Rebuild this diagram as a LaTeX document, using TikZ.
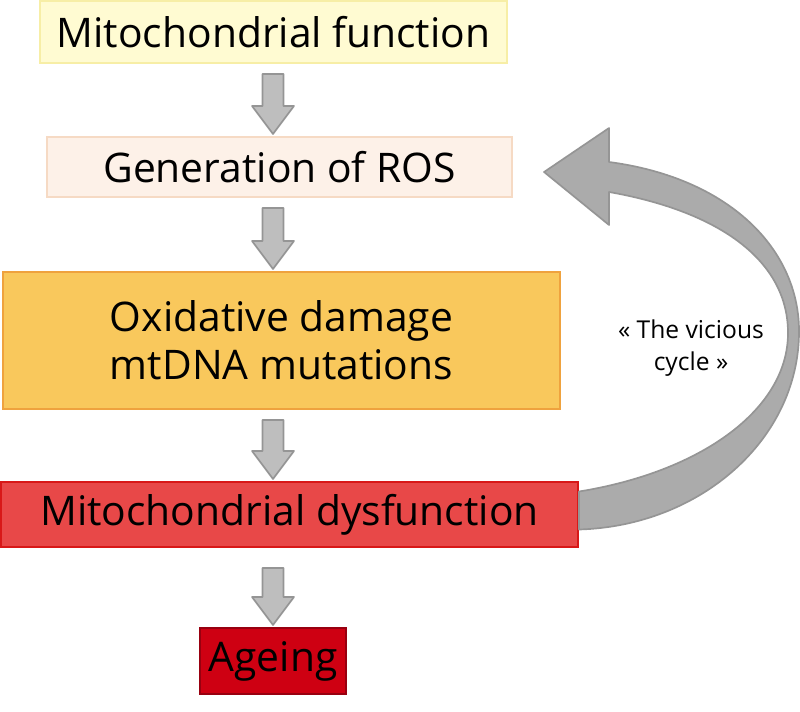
\documentclass[tikz,border=0pt]{standalone}
\usepackage{fontspec}
\setmainfont{Open Sans}
\usepackage{xcolor}
\usetikzlibrary{positioning}
\usetikzlibrary{calc}
\definecolor{fnfill}{HTML}{FFFBD2}
\definecolor{fnedge}{HTML}{F7EEA6}
\definecolor{rosfill}{HTML}{FDF1E8}
\definecolor{rosedge}{HTML}{F6DAC4}
\definecolor{oxfill}{HTML}{F9C85C}
\definecolor{oxedge}{HTML}{EFA23E}
\definecolor{dysfill}{HTML}{E84848}
\definecolor{dysedge}{HTML}{D81818}
\definecolor{agefill}{HTML}{CE0012}
\definecolor{ageedge}{HTML}{980010}
\definecolor{flowgray}{HTML}{BEBEBE}
\definecolor{flowedge}{HTML}{959595}
\def\pixel{0.025cm}
% block arrow straight down between two boxes
\newcommand\flowarrow[3]{%
  \path (axis |- #1.south) coordinate (arrtop) (axis |- #2.north) coordinate (arrbot);
  \filldraw[flowgray, draw=flowedge, line width=1.2pt, line join=round]
    ($(arrtop)+(-10.5,#3)$) -- ($(arrtop)+(10.5,#3)$) -- ($(arrbot)+(10.5,-30)$) --
    ($(arrbot)+(21,-30)$) -- ($(arrbot)+(0,-2)$) -- ($(arrbot)+(-21,-30)$) --
    ($(arrbot)+(-10.5,-30)$) -- cycle;
}

\begin{document}
\begin{tikzpicture}[x=\pixel, y=-\pixel,
  box/.style={draw, line width=1.5pt, inner sep=0pt, align=center,
    font=\fontsize{29}{34}\selectfont},
  cycletext/.style={align=center, font=\fontsize{17.5}{23}\selectfont}]
\useasboundingbox (0,0) rectangle (800,711);
\coordinate (axis) at (273,0);

\node[box, fill=fnfill, draw=fnedge, minimum width=467*\pixel, minimum height=62*\pixel] (fn) at (273.5,32) {Mitochondrial function};
\node[box, fill=rosfill, draw=rosedge, minimum width=465*\pixel, minimum height=60*\pixel] (ros) at (279.5,167) {Generation of ROS};
\node[box, fill=oxfill, draw=oxedge, minimum width=557*\pixel, minimum height=137*\pixel] (ox) at (281.5,340.5) {Oxidative damage\\mtDNA mutations};
\node[box, fill=dysfill, draw=dysedge, minimum width=577*\pixel, minimum height=65*\pixel] (dys) at (289.5,514.5) {Mitochondrial dysfunction};
\node[box, fill=agefill, draw=ageedge, minimum width=146*\pixel, minimum height=66*\pixel] (age) at (273,661) {Ageing};

\flowarrow{fn}{ros}{10}
\flowarrow{ros}{ox}{10}
\flowarrow{ox}{dys}{10}
\flowarrow{dys}{age}{20}

% the curved feedback ribbon
\coordinate (loopin) at (788,333);
\coordinate (loopout) at (799,333);
\filldraw[flowgray!90!black, draw=flowedge, line width=1.2pt, line join=round]
  ($(dys.east)+(0,-23)$) .. controls (700,472) and (788,410) .. (loopin)
  .. controls (788,262) and (722,212) .. ($(ros.east)+(96,25)$)
  -- ($(ros.east)+(96,58)$) -- ($(ros.east)+(31,5)$) -- ($(ros.east)+(96,-39)$)
  -- ($(ros.east)+(96,-5)$) .. controls (730,178) and (800,250) .. (loopout)
  .. controls (798,440) and (700,526) .. ($(dys.east)+(0,15)$) -- cycle;

\node[cycletext] (vicious) at (691,348) {« The vicious\\cycle »};
\end{tikzpicture}
\end{document}
